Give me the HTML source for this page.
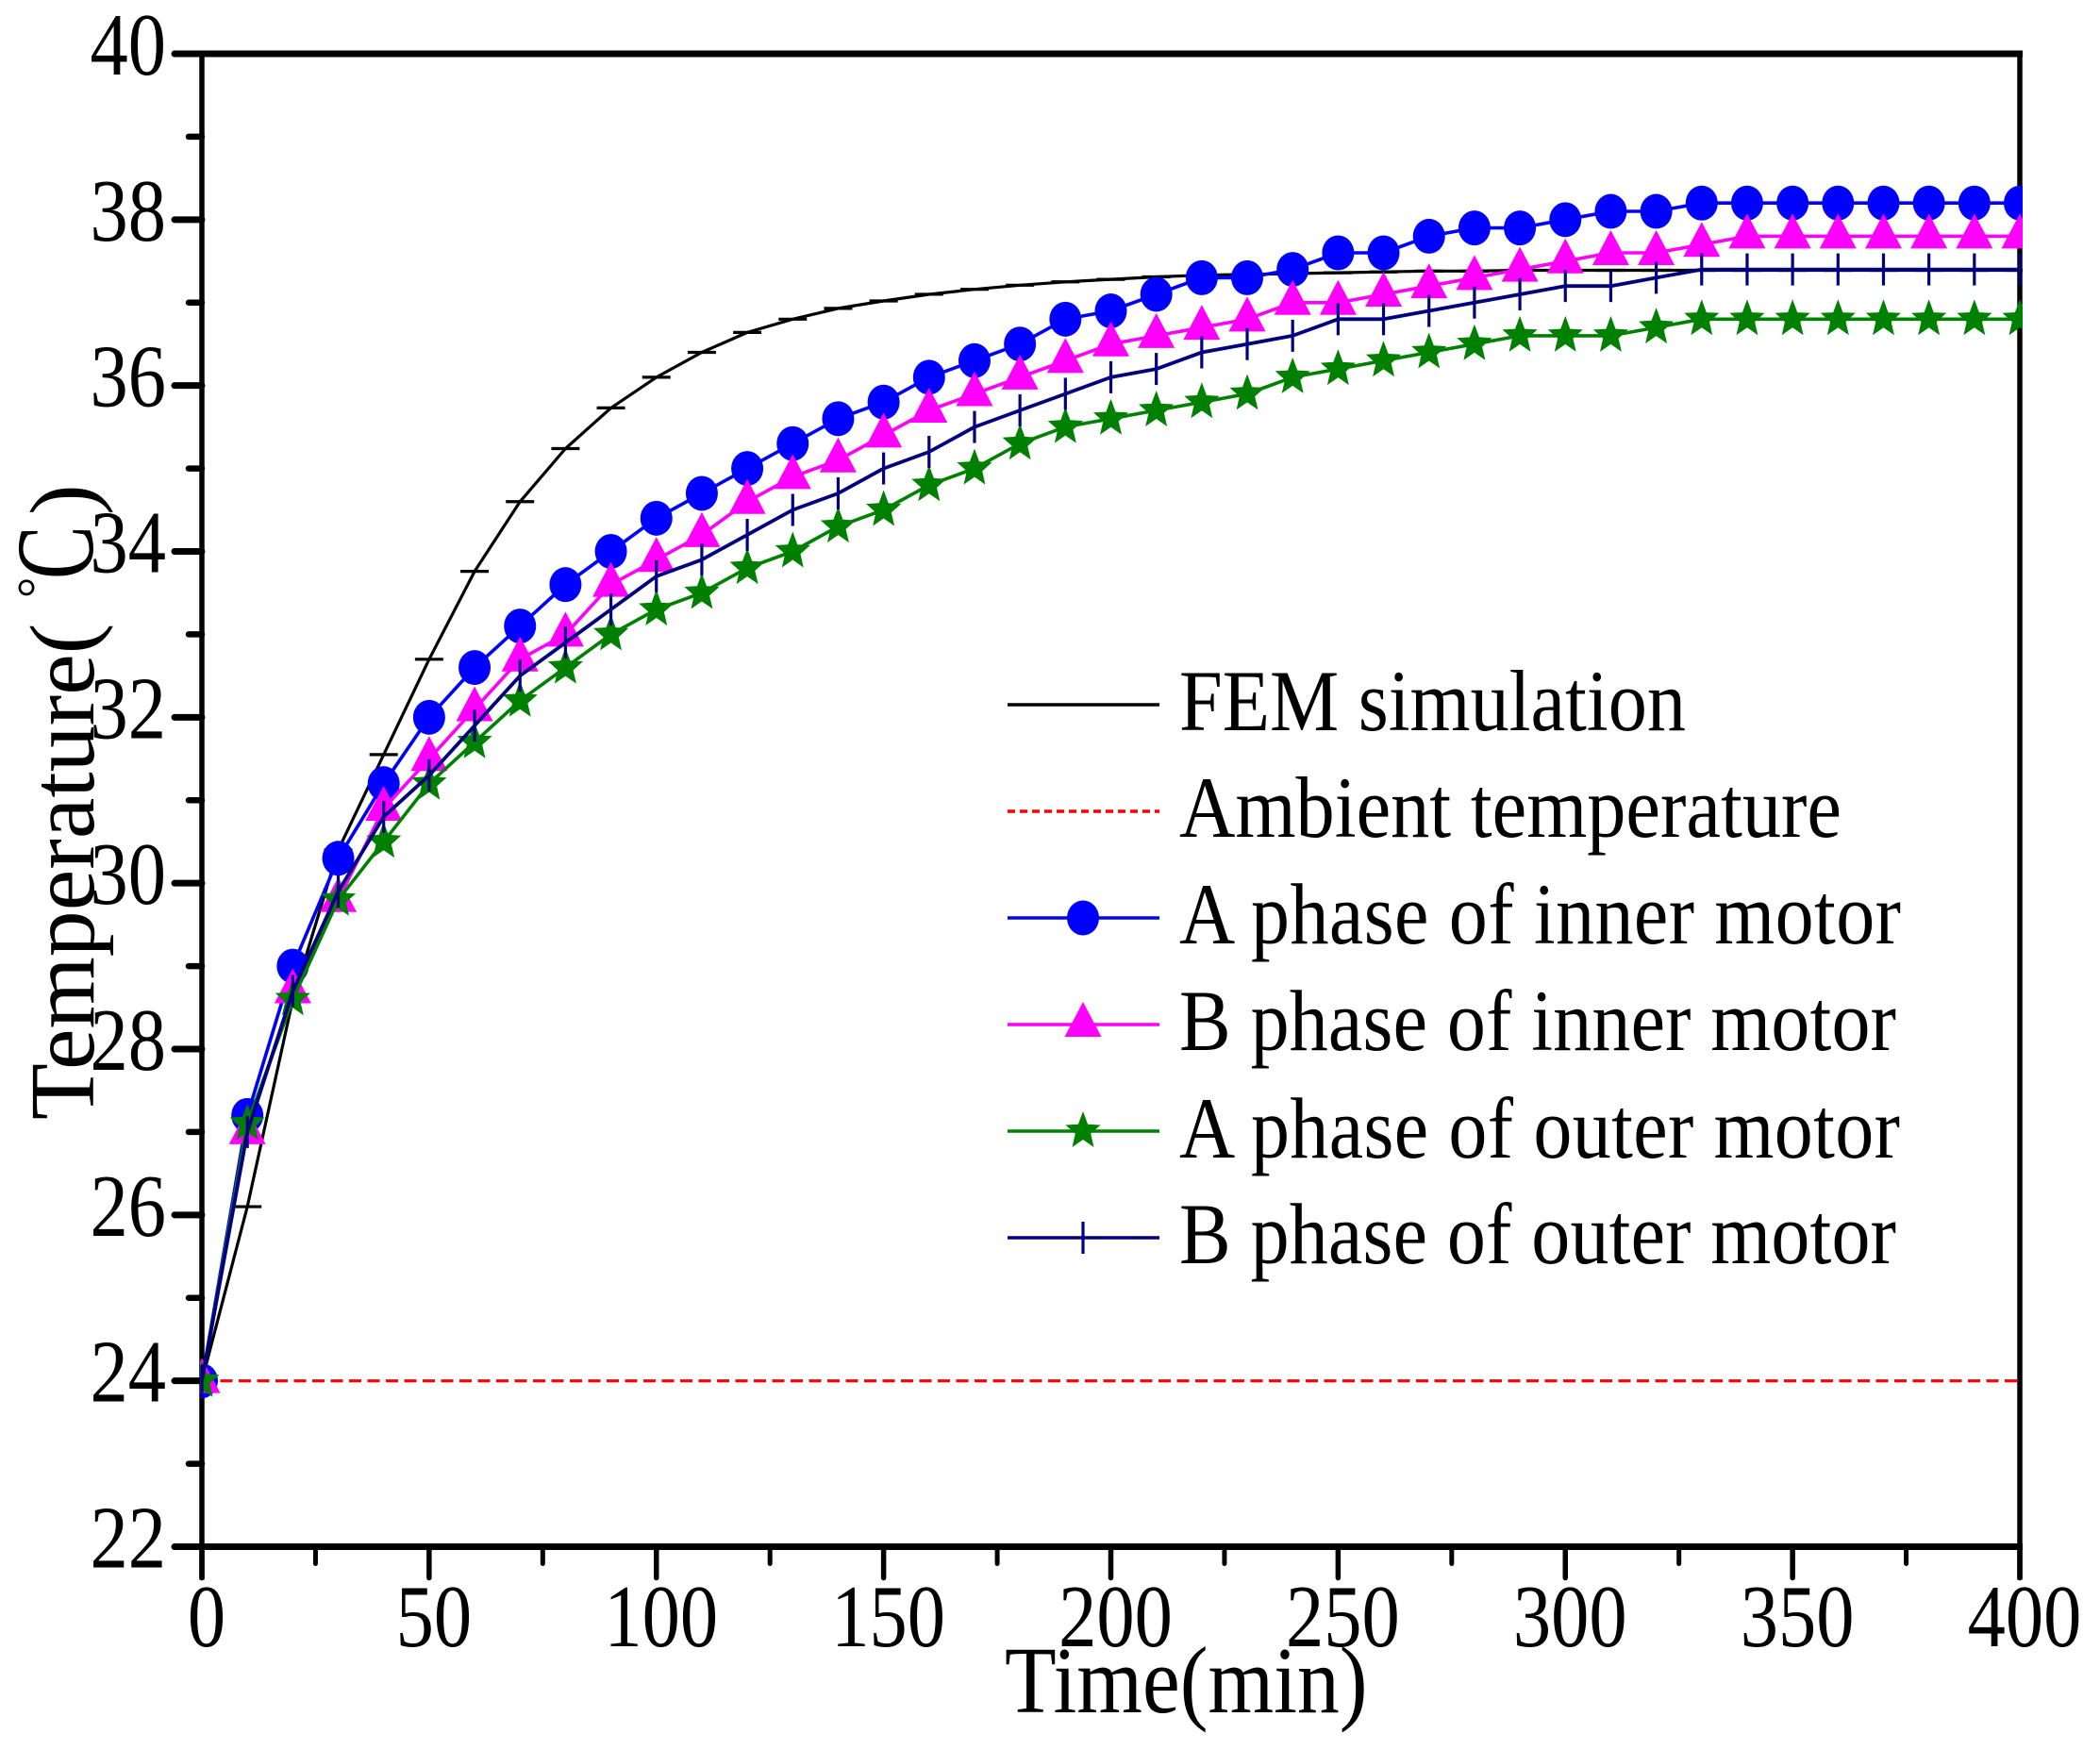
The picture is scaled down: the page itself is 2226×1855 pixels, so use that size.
<!DOCTYPE html>
<html>
<head>
<meta charset="utf-8">
<title>Temperature vs Time</title>
<style>
html,body{margin:0;padding:0;background:#fff;width:2226px;height:1855px;overflow:hidden}
svg{display:block}
text{font-family:"Liberation Serif","Times New Roman",serif;fill:#000}
</style>
</head>
<body>
<svg id="chart" xmlns="http://www.w3.org/2000/svg" width="2226" height="1855" viewBox="0 0 2226 1855">
<defs><clipPath id="plot-clip"><rect x="212" y="50" width="1932" height="1595"/></clipPath></defs>
<rect x="0" y="0" width="2226" height="1855" fill="#fff"/>
<g id="axes"></g>
<g id="series" clip-path="url(#plot-clip)"></g>
<g>
<text transform="translate(99,1187) rotate(-90)" font-size="98">Temperature(</text>
<text transform="translate(57,634) rotate(-90)" font-size="56">°</text>
<text transform="translate(98,614) rotate(-90) scale(0.72,1)" font-size="118">C</text>
<text transform="translate(99,546) rotate(-90)" font-size="98">)</text>
</g>
<text transform="translate(1065,1815) scale(1,1.12)" font-size="89.5">Time(min)</text>
<g id="legend">
<text transform="translate(1250,774) scale(1,1.13)" font-size="82" textLength="537" lengthAdjust="spacingAndGlyphs">FEM simulation</text>
<text transform="translate(1250,887) scale(1,1.13)" font-size="82" textLength="702" lengthAdjust="spacingAndGlyphs">Ambient temperature</text>
<text transform="translate(1250,1000) scale(1,1.13)" font-size="82" textLength="765" lengthAdjust="spacing">A phase of inner motor</text>
<text transform="translate(1250,1113) scale(1,1.13)" font-size="82" textLength="760" lengthAdjust="spacing">B phase of inner motor</text>
<text transform="translate(1250,1227) scale(1,1.13)" font-size="82" textLength="764" lengthAdjust="spacing">A phase of outer motor</text>
<text transform="translate(1250,1339) scale(1,1.13)" font-size="82" textLength="760" lengthAdjust="spacing">B phase of outer motor</text>
</g>
</svg>
<script>
const times = [0,10,20,30,40,50,60,70,80,90,100,110,120,130,140,150,160,170,180,190,200,210,220,230,240,250,260,270,280,290,300,310,320,330,340,350,360,370,380,390,400];
const femValues = [24,26.1,28.6,30.4,31.55,32.7,33.76,34.6,35.24,35.73,36.1,36.4,36.64,36.8,36.93,37.02,37.1,37.16,37.21,37.25,37.28,37.31,37.33,37.34,37.35,37.36,37.37,37.38,37.38,37.39,37.39,37.39,37.39,37.39,37.39,37.39,37.39,37.39,37.39,37.39,37.39];
const ambientValues = [24,24];
const ambientTimes = [0,400];
const aInnerValues = [24,27.2,29.0,30.3,31.2,32.0,32.6,33.1,33.6,34.0,34.4,34.7,35.0,35.3,35.6,35.8,36.1,36.3,36.5,36.8,36.9,37.1,37.3,37.3,37.4,37.6,37.6,37.8,37.9,37.9,38.0,38.1,38.1,38.2,38.2,38.2,38.2,38.2,38.2,38.2,38.2];
const bInnerValues = [24,27.0,28.7,29.8,30.9,31.5,32.1,32.7,33.0,33.6,33.9,34.2,34.6,34.9,35.1,35.4,35.7,35.9,36.1,36.3,36.5,36.6,36.7,36.8,37.0,37.0,37.1,37.2,37.3,37.4,37.5,37.6,37.6,37.7,37.8,37.8,37.8,37.8,37.8,37.8,37.8];
const aOuterValues = [24,27.1,28.6,29.8,30.5,31.2,31.7,32.2,32.6,33.0,33.3,33.5,33.8,34.0,34.3,34.5,34.8,35.0,35.3,35.5,35.6,35.7,35.8,35.9,36.1,36.2,36.3,36.4,36.5,36.6,36.6,36.6,36.7,36.8,36.8,36.8,36.8,36.8,36.8,36.8,36.8];
const bOuterValues = [24,27.0,28.7,29.9,30.8,31.3,31.9,32.5,32.9,33.3,33.7,33.9,34.2,34.5,34.7,35.0,35.2,35.5,35.7,35.9,36.1,36.2,36.4,36.5,36.6,36.8,36.8,36.9,37.0,37.1,37.2,37.2,37.3,37.4,37.4,37.4,37.4,37.4,37.4,37.4,37.4];
const yMajorTicks = [22,24,26,28,30,32,34,36,38,40];
const yMinorTicks = [23,25,27,29,31,33,35,37,39];
const xMajorTicks = [0,50,100,150,200,250,300,350,400];
const xMinorTicks = [25,75,125,175,225,275,325,375];

const NS = 'http://www.w3.org/2000/svg';
const X0 = 214, X1 = 2141, Y0 = 1639.5, Y1 = 57;
const xMin = 0, xMax = 400, yMin = 22, yMax = 40;
function sx(t){ return X0 + (t - xMin) / (xMax - xMin) * (X1 - X0); }
function sy(v){ return Y0 - (v - yMin) / (yMax - yMin) * (Y0 - Y1); }

function mk(tag, attrs, parent){
  const el = document.createElementNS(NS, tag);
  for (const k in attrs) el.setAttribute(k, attrs[k]);
  parent.appendChild(el);
  return el;
}

const axes = document.getElementById('axes');
const seriesG = document.getElementById('series');
const legend = document.getElementById('legend');

const frame = [
  ['axis-left', X0, Y1, X0, Y0 + 35, 5.5],
  ['axis-right', X1, Y1 - 3, X1, Y0 + 35, 5.5],
  ['axis-top', X0 - 30, Y1, X1 + 3, Y1, 7],
  ['axis-bottom', X0 - 30, Y0, X1 + 3, Y0, 7]
];
frame.forEach(function(f){
  const l = mk('line', {x1:f[1], y1:f[2], x2:f[3], y2:f[4], stroke:'#000', 'stroke-width':f[5]}, axes);
  
  
});

yMajorTicks.forEach(function(v){
  const y = sy(v);
  const t = mk('line', {x1:X0, y1:y, x2:X0 - 29, y2:y, stroke:'#000', 'stroke-width':7, 'stroke-linecap':'round'}, axes);
  
  
  const lab = mk('text', {transform:'translate(176,' + (y + 22) + ') scale(1,1.165)', 'font-size':80.5, 'text-anchor':'end'}, axes);
  lab.textContent = String(v);
  
  
});
yMinorTicks.forEach(function(v){
  const y = sy(v);
  const t = mk('line', {x1:X0, y1:y, x2:X0 - 14, y2:y, stroke:'#000', 'stroke-width':6.5, 'stroke-linecap':'round'}, axes);
  
  
});
xMajorTicks.forEach(function(v){
  const x = sx(v);
  const t = mk('line', {x1:x, y1:Y0, x2:x, y2:Y0 + 33, stroke:'#000', 'stroke-width':5.5, 'stroke-linecap':'round'}, axes);
  
  
  const lab = mk('text', {transform:'translate(' + (x + 5) + ',1745) scale(1,1.165)', 'font-size':80.5, 'text-anchor':'middle'}, axes);
  lab.textContent = String(v);
  
  
});
xMinorTicks.forEach(function(v){
  const x = sx(v);
  const t = mk('line', {x1:x, y1:Y0, x2:x, y2:Y0 + 18, stroke:'#000', 'stroke-width':5, 'stroke-linecap':'round'}, axes);
  
  
});

function starPoints(cx, cy){
  const pts = [];
  for (let i = 0; i < 10; i++){
    const ang = -Math.PI / 2 + i * Math.PI / 5;
    const rx = i % 2 ? 8.6 : 19.5;
    const ry = i % 2 ? 9 : 21;
    pts.push((cx + rx * Math.cos(ang)).toFixed(1) + ',' + (cy + ry * Math.sin(ang)).toFixed(1));
  }
  return pts.join(' ');
}

function marker(kind, cx, cy, color, parent){
  if (kind === 'circle') return mk('ellipse', {cx:cx, cy:cy, rx:17, ry:18.5, fill:color}, parent);
  if (kind === 'triangle') return mk('polygon', {points:(cx) + ',' + (cy - 24) + ' ' + (cx + 19.5) + ',' + (cy + 13) + ' ' + (cx - 19.5) + ',' + (cy + 13), fill:color}, parent);
  if (kind === 'star') return mk('polygon', {points:starPoints(cx, cy), fill:color}, parent);
  if (kind === 'vbar') return mk('line', {x1:cx, y1:cy - 17, x2:cx, y2:cy + 17, stroke:color, 'stroke-width':3.2}, parent);
  if (kind === 'hbar') return mk('line', {x1:cx - 15, y1:cy, x2:cx + 15, y2:cy, stroke:color, 'stroke-width':3.2}, parent);
  return null;
}

function drawSeries(name, xs, vals, color, width, kind, dash){
  const g = mk('g', {}, seriesG);
  
  
  const pts = xs.map(function(t, i){ return sx(t).toFixed(1) + ',' + sy(vals[i]).toFixed(1); }).join(' ');
  const line = mk('polyline', {points:pts, fill:'none', stroke:color, 'stroke-width':width, 'stroke-linejoin':'round'}, g);
  if (dash) line.setAttribute('stroke-dasharray', dash);
  
  
  if (kind){
    xs.forEach(function(t, i){
      const m = marker(kind, sx(t), sy(vals[i]), color, g);
      
      
    });
  }
}

drawSeries('fem-simulation', times, femValues, '#000000', 3.2, 'hbar');
drawSeries('ambient-temperature', ambientTimes, ambientValues, '#ff0000', 3.2, null, '13 6.5');
drawSeries('a-phase-inner', times, aInnerValues, '#0000ff', 3.6, 'circle');
drawSeries('b-phase-inner', times, bInnerValues, '#ff00ff', 3.6, 'triangle');
drawSeries('a-phase-outer', times, aOuterValues, '#008000', 3.6, 'star');
drawSeries('b-phase-outer', times, bOuterValues, '#000080', 3.8, 'vbar');

const legendNames = ['fem','ambient','a-inner','b-inner','a-outer','b-outer'];
const legendColors = ['#000000','#ff0000','#0000ff','#ff00ff','#008000','#000080'];
const legendKinds = [null,null,'circle','triangle','star','vbar'];
const legendRows = [747,860,973,1086,1199,1312];
legendNames.forEach(function(n, i){
  const y = legendRows[i];
  const l = mk('line', {x1:1068, y1:y, x2:1229, y2:y, stroke:legendColors[i], 'stroke-width':3.4}, legend);
  if (n === 'ambient') l.setAttribute('stroke-dasharray', '8 5');
  
  
  if (legendKinds[i]){
    const m = marker(legendKinds[i], 1148, y, legendColors[i], legend);
    
    
  }
});
</script>
</body>
</html>
